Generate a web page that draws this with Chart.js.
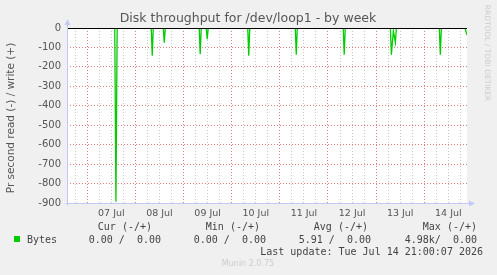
<!DOCTYPE html>
<html>
<head>
<meta charset="utf-8">
<script src="https://cdn.jsdelivr.net/npm/chart.js@4/dist/chart.umd.min.js"></script>
<style>
  html, body { margin: 0; padding: 0; background: #f0f0f0; }
  canvas { display: block; }
</style>
</head>
<body>
<canvas id="munin" width="497" height="275"></canvas>
<script>
// hours since 07 Jul 00:00, read bytes/s shown negative
var readHours  = [-10.1, 13.7, 14.3, 14.9, 31.9, 32.4, 32.9, 37.9, 38.4, 38.9,
                  55.8, 56.3, 56.8, 59.3, 59.8, 60.3, 80.0, 80.5, 81.0,
                  103.7, 104.2, 104.7, 127.6, 128.1, 128.6,
                  151.1, 151.6, 152.6, 153.6, 154.1, 175.5, 176.0, 176.5,
                  188.3, 189.3];
var readValues = [0, 0, -893, 0, 0, -142, 0, 0, -75, 0,
                  0, -135, 0, 0, -58, 0, 0, -142, 0,
                  0, -137, 0, 0, -137, 0,
                  0, -137, -15, -75, 0, 0, -137, 0,
                  0, -36];
var dayLabels = ['07 Jul', '08 Jul', '09 Jul', '10 Jul', '11 Jul', '12 Jul', '13 Jul', '14 Jul'];
var xTickHours = [-6, 0, 6, 12, 18, 24, 30, 36, 42, 48, 54, 60, 66, 72, 78, 84, 90, 96,
                  102, 108, 114, 120, 126, 132, 138, 144, 150, 156, 162, 168, 174, 180, 186];
var legendHeads = ['Cur (-/+)', 'Min (-/+)', 'Avg (-/+)', 'Max (-/+)'];
var legendVals = ['0.00 /  0.00', '0.00 /  0.00', '5.91 /  0.00', '4.98k/  0.00'];

var points = readHours.map(function(h, i) { return {x: h, y: readValues[i]}; });

var majorGrid = 'rgba(225, 110, 110, 0.9)';
var minorGrid = 'rgba(180, 180, 180, 0.75)';
var axisColor = '#c4c8f2';

var munin = {
    id: 'munin',
    beforeDraw: function(chart) {
        var c = chart.ctx, a = chart.chartArea;
        c.save();
        c.fillStyle = '#f0f0f0';
        c.fillRect(0, 0, chart.width, chart.height);
        c.fillStyle = '#ffffff';
        c.fillRect(a.left, a.top, a.right - a.left, a.bottom - a.top);
        c.restore();
    },
    afterDatasetsDraw: function(chart) {
        var c = chart.ctx, a = chart.chartArea;
        var y0 = Math.round(chart.scales.y.getPixelForValue(0)) + 0.5;
        c.save();
        // zero line
        c.strokeStyle = '#000000';
        c.lineWidth = 1;
        c.beginPath();
        c.moveTo(a.left, y0);
        c.lineTo(a.right, y0);
        c.stroke();
        // axes with arrows
        c.strokeStyle = axisColor;
        c.fillStyle = axisColor;
        var l = Math.round(a.left) + 0.5, b = Math.round(a.bottom) + 0.5;
        c.beginPath();
        c.moveTo(l, b + 2);
        c.lineTo(l, a.top - 4);
        c.moveTo(l - 2, b);
        c.lineTo(a.right + 3, b);
        c.stroke();
        c.beginPath();
        c.moveTo(l - 3, a.top - 3);
        c.lineTo(l + 3, a.top - 3);
        c.lineTo(l, a.top - 9);
        c.closePath();
        c.fill();
        c.beginPath();
        c.moveTo(a.right + 2, b - 3);
        c.lineTo(a.right + 2, b + 3);
        c.lineTo(a.right + 8, b);
        c.closePath();
        c.fill();

        // title
        c.fillStyle = '#555555';
        c.font = '12.5px "DejaVu Sans"';
        c.textAlign = 'center';
        c.textBaseline = 'middle';
        c.fillText('Disk throughput for /dev/loop1 - by week', 248, 19);

        // y axis title
        c.save();
        c.translate(11, 118);
        c.rotate(-Math.PI / 2);
        c.font = '10.5px "DejaVu Sans"';
        c.fillText('Pr second read (-) / write (+)', 0, 0);
        c.restore();

        // rrdtool credit
        c.save();
        c.translate(487, 53);
        c.rotate(Math.PI / 2);
        c.fillStyle = '#cccccc';
        c.font = '7.5px "DejaVu Sans"';
        c.fillText('RRDTOOL / TOBI OETIKER', 0, 0);
        c.restore();

        // legend
        c.font = '10px "DejaVu Sans Mono"';
        c.fillStyle = '#444444';
        c.textAlign = 'right';
        var headX = [152, 260, 368, 477];
        var valX = [161, 266, 371, 477];
        legendHeads.forEach(function(t, i) { c.fillText(t, headX[i], 227); });
        legendVals.forEach(function(t, i) { c.fillText(t, valX[i], 240); });
        c.fillText('Last update: Tue Jul 14 21:00:07 2026', 483, 252);
        c.textAlign = 'left';
        c.fillText('Bytes', 27, 240);
        c.fillStyle = '#00cc00';
        c.fillRect(14, 236, 6, 6);

        c.fillStyle = '#cccccc';
        c.font = '8px "DejaVu Sans"';
        c.textAlign = 'center';
        c.fillText('Munin 2.0.75', 248, 264);
        c.restore();
    }
};

new Chart(document.getElementById('munin').getContext('2d'), {
    type: 'line',
    data: {
        datasets: [{
            label: 'Bytes',
            data: points,
            borderColor: '#00cc00',
            borderWidth: 1.3,
            pointRadius: 0,
            tension: 0,
            fill: false
        }]
    },
    options: {
        responsive: false,
        animation: false,
        devicePixelRatio: 1,
        layout: { padding: { left: 0, top: 28, right: 30, bottom: 0 } },
        scales: {
            x: {
                type: 'linear',
                min: -10.1,
                max: 189.3,
                afterBuildTicks: function(scale) {
                    scale.ticks = xTickHours.map(function(v) { return {value: v}; });
                },
                afterFit: function(scale) { scale.height = 72; },
                grid: {
                    drawTicks: false,
                    color: function(ctx) {
                        return ctx.tick && ctx.tick.value % 24 === 0 ? majorGrid : minorGrid;
                    }
                },
                border: { display: false, dash: [1, 2] },
                ticks: {
                    autoSkip: false,
                    maxRotation: 0,
                    padding: 5,
                    color: '#555555',
                    font: { family: 'DejaVu Sans', size: 9.5 },
                    callback: function(v) {
                        var d = (v - 12) / 24;
                        return (d >= 0 && d % 1 === 0) ? dayLabels[d] : '';
                    }
                }
            },
            y: {
                min: -900,
                max: 0,
                afterFit: function(scale) { scale.width = 67; },
                grid: {
                    drawTicks: false,
                    color: function(ctx) {
                        return ctx.tick && ctx.tick.value % 100 === 0 ? majorGrid : minorGrid;
                    }
                },
                border: { display: false, dash: [1, 2] },
                ticks: {
                    stepSize: 50,
                    padding: 6,
                    color: '#555555',
                    font: { family: 'DejaVu Sans', size: 10 },
                    callback: function(v) { return v % 100 === 0 ? String(v) : ''; }
                }
            }
        },
        plugins: {
            legend: { display: false },
            tooltip: { enabled: false }
        }
    },
    plugins: [munin]
});
</script>
</body>
</html>
